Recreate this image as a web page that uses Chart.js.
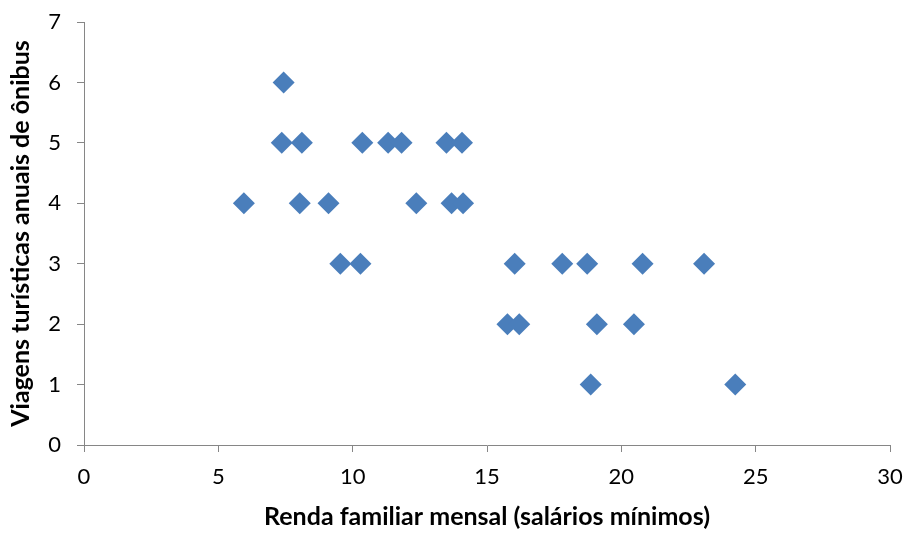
<!DOCTYPE html>
<html>
<head>
<meta charset="utf-8">
<script src="https://cdn.jsdelivr.net/npm/chart.js@4"></script>
<style>
  html, body { margin: 0; padding: 0; background: #fff; }
  #wrap { width: 909px; height: 536px; }
</style>
</head>
<body>
<div id="wrap"><canvas id="chart"></canvas></div>
<script>
// renda familiar (salários mínimos) x viagens anuais
var renda = [5.95, 7.43, 7.36, 8.11, 8.03, 9.10, 9.54, 10.29, 10.36, 11.32, 11.82, 12.37, 13.49, 14.07,
             13.68, 14.11, 16.03, 15.76, 16.20, 17.80, 18.73, 18.86, 19.09, 20.47, 20.79, 23.08, 24.24];
var viagens = [4, 6, 5, 5, 4, 4, 3, 3, 5, 5, 5, 4, 5, 5,
               4, 4, 3, 2, 2, 3, 3, 1, 2, 2, 3, 3, 1];
var xTicks = [0, 5, 10, 15, 20, 25, 30];
var yTicks = [0, 1, 2, 3, 4, 5, 6, 7];

var points = renda.map(function (r, i) { return { x: r, y: viagens[i] }; });
var axisGray = '#868686';
var fontFam = 'Lato, "Liberation Sans", sans-serif';

var ctx = document.getElementById('chart').getContext('2d');

new Chart(ctx, {
    type: 'scatter',
    data: {
        datasets: [{
            label: 'Viagens',
            data: points,
            pointStyle: 'rectRot',
            pointRadius: 11,
            pointHoverRadius: 11,
            backgroundColor: '#4a7ebb',
            borderColor: '#4a7ebb',
            borderWidth: 0
        }]
    },
    options: {
        responsive: true,
        maintainAspectRatio: false,
        animation: false,
        layout: { padding: { top: 22, right: 19, left: 0, bottom: 0 } },
        plugins: {
            legend: { display: false },
            tooltip: { enabled: false }
        },
        scales: {
            x: {
                type: 'linear',
                min: 0,
                max: 30,
                afterBuildTicks: function (s) { s.ticks = xTicks.map(function (v) { return { value: v }; }); },
                afterFit: function (s) { s.height = 91; s.paddingLeft = 0; s.paddingRight = 0; },
                grid: { drawOnChartArea: false, color: axisGray, tickLength: 7, lineWidth: 1 },
                border: { color: axisGray, width: 1 },
                ticks: { color: '#000', font: { family: fontFam, size: 22 }, padding: 12, maxRotation: 0 },
                title: {
                    display: true,
                    text: 'Renda familiar mensal (salários mínimos)',
                    color: '#000',
                    font: { family: fontFam, size: 25, weight: 'bold' },
                    padding: { top: 6 }
                }
            },
            y: {
                type: 'linear',
                min: 0,
                max: 7,
                afterBuildTicks: function (s) { s.ticks = yTicks.map(function (v) { return { value: v }; }); },
                afterFit: function (s) { s.width = 84; s.paddingTop = 0; s.paddingBottom = 0; },
                grid: { drawOnChartArea: false, color: axisGray, tickLength: 7, lineWidth: 1 },
                border: { color: axisGray, width: 1 },
                ticks: { color: '#000', font: { family: fontFam, size: 22 }, padding: 16 },
                title: {
                    display: true,
                    text: 'Viagens turísticas anuais de ônibus',
                    color: '#000',
                    font: { family: fontFam, size: 25, weight: 'bold' },
                    padding: { top: 6, bottom: 0 }
                }
            }
        }
    }
});
</script>
</body>
</html>
